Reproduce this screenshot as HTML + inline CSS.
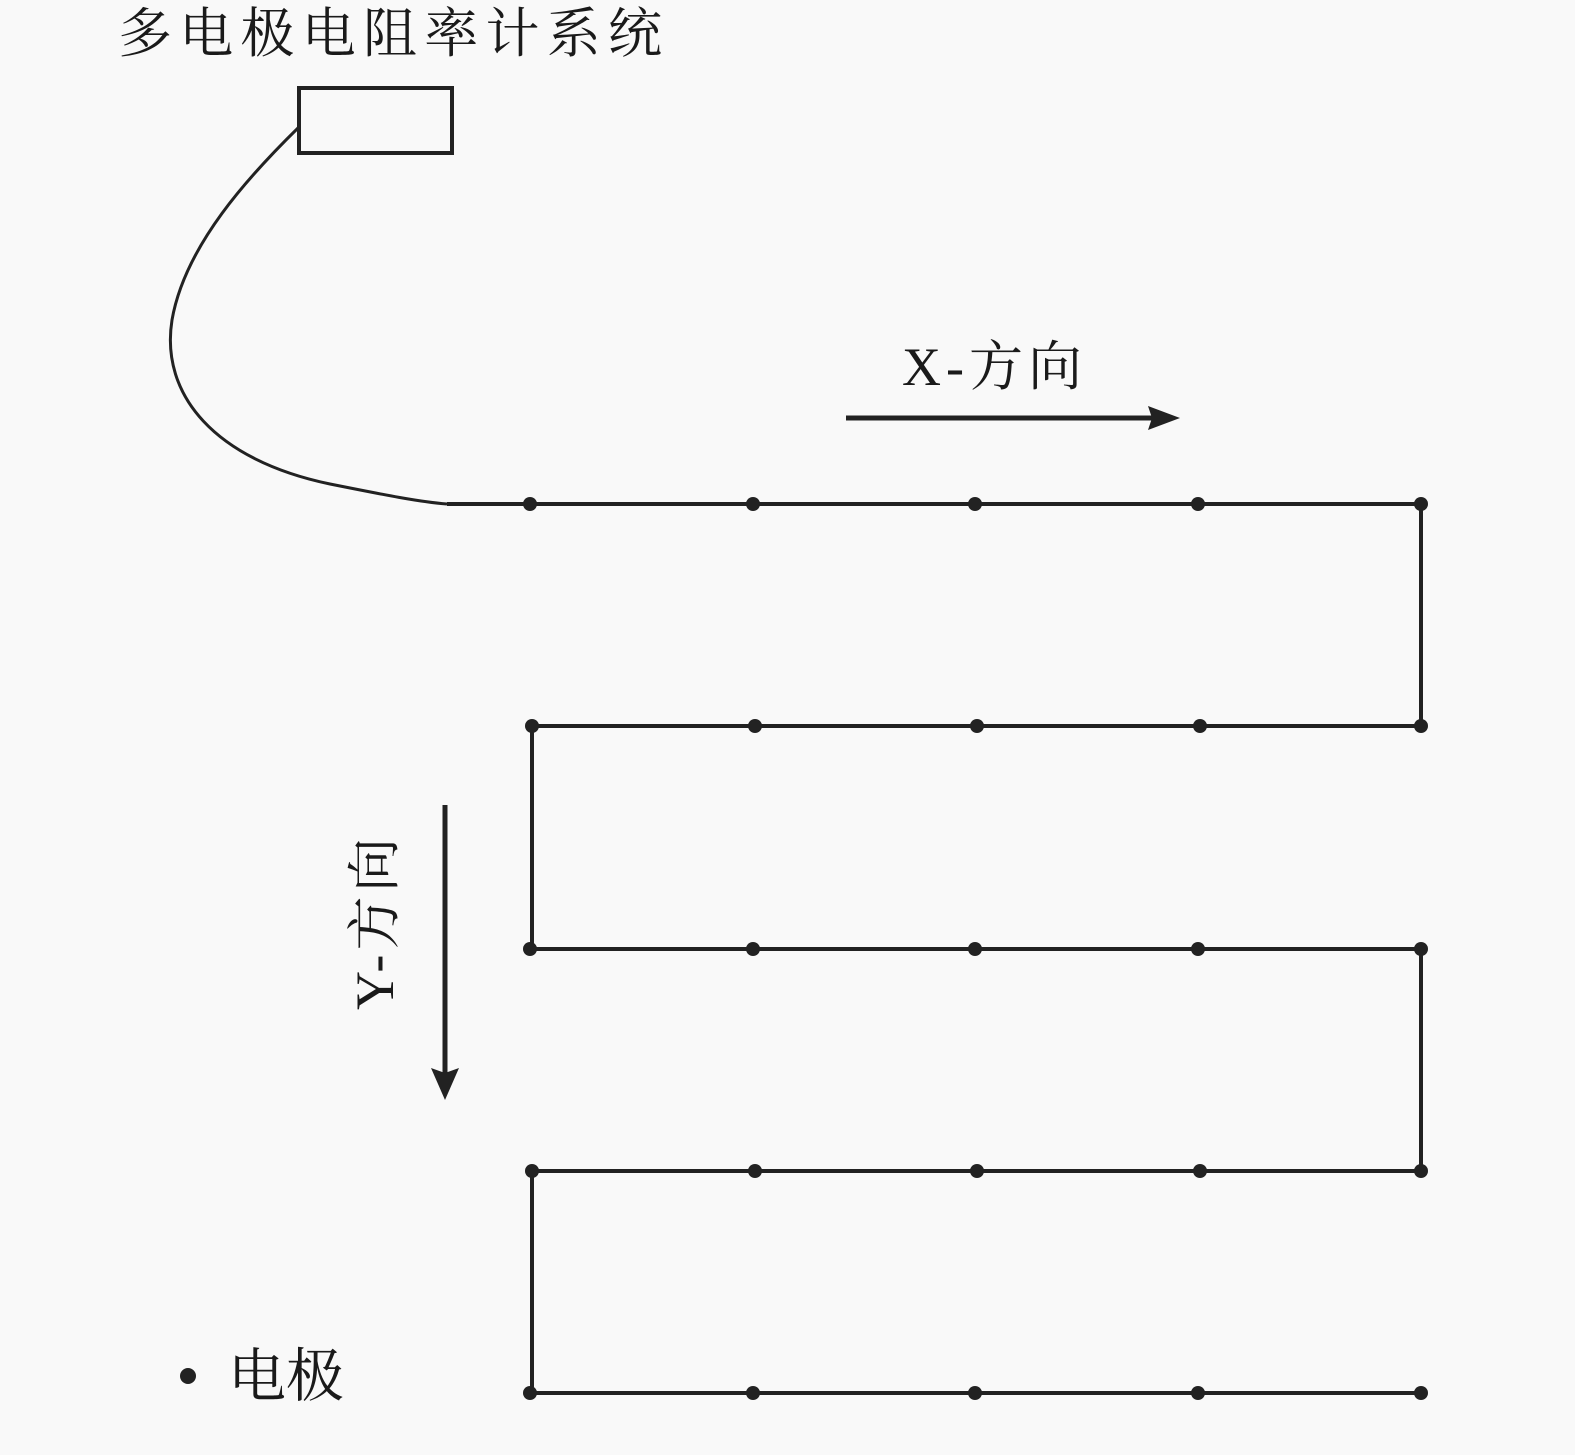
<!DOCTYPE html>
<html><head><meta charset="utf-8"><style>
html,body{margin:0;padding:0;background:#f9f9f9;}
svg{display:block}
text{font-family:"Liberation Serif","Noto Serif CJK SC",serif;fill:#1a1a1a}
</style></head><body>
<svg width="1575" height="1455" viewBox="0 0 1575 1455" xmlns="http://www.w3.org/2000/svg">
<rect width="1575" height="1455" fill="#f9f9f9"/>
<text x="118" y="52" font-size="54" textLength="544" lengthAdjust="spacing">多电极电阻率计系统</text>
<rect x="299" y="88" width="153" height="65" fill="none" stroke="#222" stroke-width="4"/>
<path d="M299,127 C250,175 185,245 172,320 C160,395 215,460 330,484 C385,495 420,502 447,504" fill="none" stroke="#222" stroke-width="3"/>
<g stroke="#222" stroke-width="4" fill="none">
<path d="M447,504 H1421 V726 H532 V949 H1421 V1171 H532 V1393 H1421"/>
</g>
<g fill="#222">
<circle cx="530" cy="504" r="7"/><circle cx="753" cy="504" r="7"/><circle cx="975" cy="504" r="7"/><circle cx="1198" cy="504" r="7"/><circle cx="1421" cy="504" r="7"/>
<circle cx="532" cy="726" r="7"/><circle cx="755" cy="726" r="7"/><circle cx="977" cy="726" r="7"/><circle cx="1200" cy="726" r="7"/><circle cx="1421" cy="726" r="7"/>
<circle cx="530" cy="949" r="7"/><circle cx="753" cy="949" r="7"/><circle cx="975" cy="949" r="7"/><circle cx="1198" cy="949" r="7"/><circle cx="1421" cy="949" r="7"/>
<circle cx="532" cy="1171" r="7"/><circle cx="755" cy="1171" r="7"/><circle cx="977" cy="1171" r="7"/><circle cx="1200" cy="1171" r="7"/><circle cx="1421" cy="1171" r="7"/>
<circle cx="530" cy="1393" r="7"/><circle cx="753" cy="1393" r="7"/><circle cx="975" cy="1393" r="7"/><circle cx="1198" cy="1393" r="7"/><circle cx="1421" cy="1393" r="7"/>
</g>
<text x="902" y="385" font-size="54" textLength="180" lengthAdjust="spacing">X-方向</text>
<line x1="846" y1="418" x2="1155" y2="418" stroke="#222" stroke-width="5"/>
<polygon points="1180,418 1148,406 1152,418 1148,430" fill="#222"/>
<line x1="445" y1="805" x2="445" y2="1075" stroke="#222" stroke-width="5"/>
<polygon points="445,1100 431,1068 445,1073 459,1068" fill="#222"/>
<text transform="translate(393,1010) rotate(-90)" font-size="54" textLength="172" lengthAdjust="spacing">Y-方向</text>
<circle cx="188" cy="1376" r="8" fill="#222"/>
<text x="228" y="1396" font-size="58" textLength="116" lengthAdjust="spacing">电极</text>
</svg>
</body></html>
